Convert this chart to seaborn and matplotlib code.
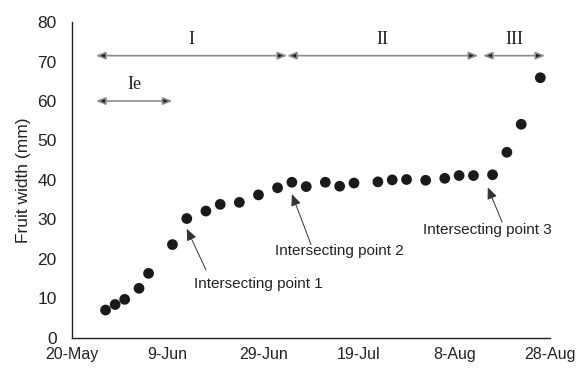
import pandas as pd
import matplotlib
matplotlib.use("Agg")
import matplotlib.pyplot as plt
import seaborn as sns

# measurement dates and fruit width (mm)
dates = ["2000-05-27", "2000-05-29", "2000-05-31", "2000-06-03", "2000-06-05",
         "2000-06-10", "2000-06-13", "2000-06-17", "2000-06-20", "2000-06-24",
         "2000-06-28", "2000-07-02", "2000-07-05", "2000-07-08", "2000-07-12",
         "2000-07-15", "2000-07-18", "2000-07-23", "2000-07-26", "2000-07-29",
         "2000-08-02", "2000-08-06", "2000-08-09", "2000-08-12", "2000-08-16",
         "2000-08-19", "2000-08-22", "2000-08-26"]
width = [7.0, 8.4, 9.7, 12.5, 16.3, 23.6, 30.2, 32.1, 33.8, 34.3, 36.2, 38.0,
         39.4, 38.3, 39.4, 38.4, 39.2, 39.5, 40.0, 40.1, 39.9, 40.4, 41.1, 41.1,
         41.3, 47.0, 54.1, 65.9]

tick_dates = ["2000-05-20", "2000-06-09", "2000-06-29", "2000-07-19", "2000-08-08", "2000-08-28"]
tick_labels = ["20-May", "9-Jun", "29-Jun", "19-Jul", "8-Aug", "28-Aug"]

# growth stages: label, start, end, y
stages = [("I", "2000-05-25", "2000-07-04", 71.5),
          ("II", "2000-07-04", "2000-08-13", 71.5),
          ("III", "2000-08-14", "2000-08-27", 71.5),
          ("Ie", "2000-05-25", "2000-06-10", 60.0)]

# intersecting points: text, arrow tip, arrow tail, text position
notes = [("Intersecting point 1", ("2000-06-13", 27.6), ("2000-06-17", 17.2), ("2000-06-28", 13.5)),
         ("Intersecting point 2", ("2000-07-05", 36.4), ("2000-07-09", 23.6), ("2000-07-15", 22.0)),
         ("Intersecting point 3", ("2000-08-15", 38.1), ("2000-08-18", 29.3), ("2000-08-15", 27.3))]

df = pd.DataFrame({"date": pd.to_datetime(dates), "width": width})

sns.set_style("white")
plt.rcParams["font.family"] = ["Liberation Sans", "DejaVu Sans"]

fig = plt.figure(figsize=(5.77, 3.69), dpi=100)
ax = fig.add_axes([0.125, 0.085, 0.828, 0.855])

sns.scatterplot(data=df, x="date", y="width", ax=ax, color="#1a1a1a",
                s=60, edgecolor="none", zorder=3)

ax.set_xlim(pd.Timestamp("2000-05-20"), pd.Timestamp("2000-08-28"))
ax.set_ylim(0, 80)
ax.set_yticks(range(0, 81, 10))
ax.set_xticks(pd.to_datetime(tick_dates))
ax.set_xticklabels(tick_labels)
ax.tick_params(axis="both", length=0, labelsize=12.5, colors="#222222")
ax.tick_params(axis="y", pad=11)
ax.tick_params(axis="x", pad=7, labelsize=11.5)
ax.set_xlabel("")
ax.set_ylabel("Fruit width (mm)", fontsize=12.5, color="#222222", labelpad=5)
for side in ["top", "right"]:
    ax.spines[side].set_visible(False)
for side in ["left", "bottom"]:
    ax.spines[side].set_color("#222222")
    ax.spines[side].set_linewidth(1.0)
ax.set_clip_on(False)

for lab, a, b, yv in stages:
    xa, xb = pd.Timestamp(a), pd.Timestamp(b)
    ax.annotate("", xy=(xb, yv), xytext=(xa, yv),
                arrowprops=dict(arrowstyle="<|-|>,head_length=0.55,head_width=0.22",
                                edgecolor="#8a8a8a", facecolor="#1a1a1a",
                                lw=1.2, shrinkA=0, shrinkB=0))
    ax.text(xa + (xb - xa) / 2, yv + 4.2, lab, ha="center", va="center",
            fontsize=13, family=["Liberation Serif", "DejaVu Serif"], color="#222222")

for txt, tip, tail, pos in notes:
    ax.annotate("", xy=(pd.Timestamp(tip[0]), tip[1]), xytext=(pd.Timestamp(tail[0]), tail[1]),
                arrowprops=dict(arrowstyle="-|>,head_length=0.7,head_width=0.3",
                                color="#333333", lw=0.7, shrinkA=0, shrinkB=0))
    ax.text(pd.Timestamp(pos[0]), pos[1], txt, ha="center", va="center", fontsize=11,
            color="#222222")

fig.savefig("out.png", dpi=100)
